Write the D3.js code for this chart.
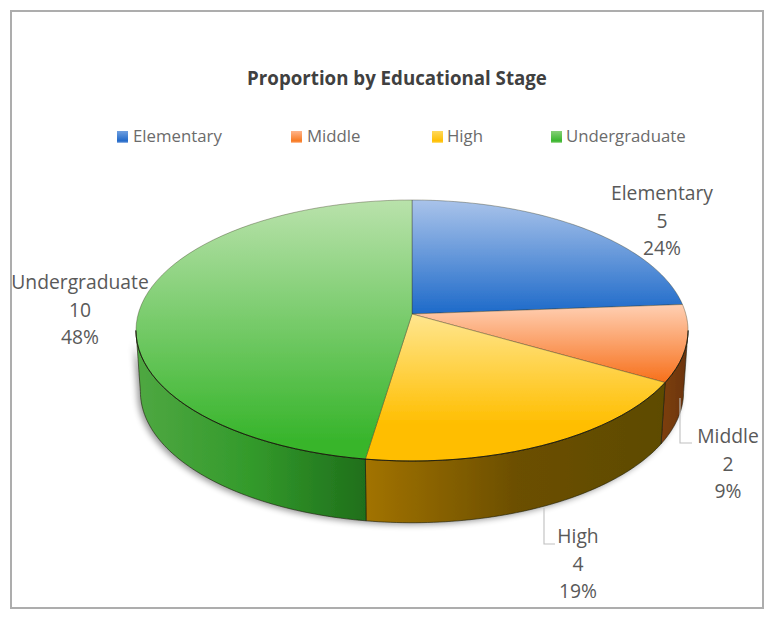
<!DOCTYPE html>
<html><head><meta charset="utf-8">
<script src="https://cdn.jsdelivr.net/npm/d3@7"></script>
<style>html,body{margin:0;padding:0;background:#fff}svg{display:block}text{font-family:"Open Sans","Noto Sans",sans-serif}</style>
</head><body><svg id="c" width="773" height="618"></svg>
<script>
const categories = ["Elementary","Middle","High","Undergraduate"];
const values = [5,2,4,10];
const percents = ["24%","9%","19%","48%"];
const titleText = "Proportion by Educational Stage";
const topColors = [["#a9c3ea","#1c69c9"],["#ffd0b4","#f7711c"],["#ffe68f","#ffbe00"],["#b9e2ab","#38b52c"]];
const sideColors = [[],["#7d3f0c","#743a0a","#6a3208"],["#a27300","#6c4f00","#5d4b00"],["#4fa842","#339a2b","#1f6f1b"]];
const swatchColors = [["#6f9fe0","#2068c8"],["#ffb48a","#f7781f"],["#ffd95c","#ffbe00"],["#86d077","#38b52c"]];
const gradTop = [200,304,314,200];
const gradBottom = [315,382,425,440];
const swatchX = [117,291,432,551];
const legendTextX = [133,307,447,566];
const labelPos = [[662,200],[728,443],[578,543],[80,289]];
const leaders = [null,[[680,398],[680,443],[692,443]],[[544,508],[544,544],[555,544]],null];

const svg = d3.select("#c");
const defs = svg.append("defs");
const cx=412, cy=314, bx=273.8, ay=128.4, p=0.1264, botCy=375, botSX=0.984, botSY=1.005;
// projection of the unit pie disc on to the tilted top and bottom planes
function topPt(a){const u=Math.sin(a),v=-Math.cos(a),d=1-p*v;return [cx+bx*u/d,cy+ay*v/d];}
function botPt(a){const t=topPt(a);return [cx+(t[0]-cx)*botSX,botCy+(t[1]-cy)*botSY];}
const arcs = d3.pie().sort(null).value(d=>d)(values);
const line = d3.line();
const stepsOf=(a,b)=>d3.range(0,61).map(i=>a+(b-a)*i/60);

categories.forEach((c,i)=>{
  const g=defs.append("linearGradient").attr("id","t"+i).attr("gradientUnits","userSpaceOnUse")
    .attr("x1",0).attr("x2",0).attr("y1",gradTop[i]).attr("y2",gradBottom[i]);
  g.append("stop").attr("offset",0).attr("stop-color",topColors[i][0]);
  g.append("stop").attr("offset",1).attr("stop-color",topColors[i][1]);
  if(i>0){
    const s=defs.append("linearGradient").attr("id","s"+i);
    sideColors[i].forEach((col,k)=>s.append("stop").attr("offset",k/2).attr("stop-color",col));
  }
  const lg=defs.append("linearGradient").attr("id","l"+i).attr("x1",0).attr("x2",0).attr("y1",0).attr("y2",1);
  lg.append("stop").attr("offset",0).attr("stop-color",swatchColors[i][0]);
  lg.append("stop").attr("offset",.85).attr("stop-color",swatchColors[i][1]);
  lg.append("stop").attr("offset",1).attr("stop-color",topColors[i][0]);
});
const f=defs.append("filter").attr("id","sh").attr("x","-10%").attr("y","-10%").attr("width","120%").attr("height","125%");
f.append("feGaussianBlur").attr("stdDeviation",3);
const soft=defs.append("filter").attr("id","soft").attr("x","-5%").attr("y","-5%").attr("width","110%").attr("height","110%");
soft.append("feGaussianBlur").attr("stdDeviation",0.35);

svg.append("rect").attr("x",11).attr("y",11).attr("width",752).attr("height",597)
  .attr("fill","#fff").attr("stroke","#adadad").attr("stroke-width",2);

// side walls: only the near (visible) part of each slice, between the two silhouette tangents
const rimMin=Math.PI*0.5+Math.asin(p), rimMax=Math.PI*1.5-Math.asin(p);
const front=stepsOf(rimMin,rimMax);
const wallPts=front.map(topPt).concat(front.slice().reverse().map(botPt));
svg.append("path").attr("d",line(wallPts)+"Z").attr("fill","#000").attr("opacity",.4)
  .attr("filter","url(#sh)").attr("transform","translate(-3,2)");

const pie=svg.append("g").attr("filter","url(#soft)");
arcs.forEach((d,i)=>{
  const a0=Math.max(d.startAngle,rimMin),a1=Math.min(d.endAngle,rimMax);
  if(a1<=a0)return;
  const ang=stepsOf(a0,a1);
  const pts=ang.map(topPt).concat(ang.slice().reverse().map(botPt));
  pie.append("path").attr("d",line(pts)+"Z").attr("fill",`url(#s${i})`)
    .attr("stroke","#1d1d0c").attr("stroke-opacity",.75).attr("stroke-width",.8).attr("stroke-linejoin","round");
});
// top faces
arcs.forEach((d,i)=>{
  const pts=[[cx,cy]].concat(stepsOf(d.startAngle,d.endAngle).map(topPt));
  pie.append("path").attr("d",line(pts)+"Z").attr("fill",`url(#t${i})`)
    .attr("stroke","#3a3a20").attr("stroke-opacity",.55).attr("stroke-width",.7).attr("stroke-linejoin","round");
});
// darker rim where the top face meets the wall
pie.append("path").attr("d",line(front.map(topPt))).attr("fill","none")
  .attr("stroke","#141408").attr("stroke-opacity",.85).attr("stroke-width",1);

// leader lines
leaders.forEach(l=>{ if(l) svg.append("path").attr("d",line(l)).attr("fill","none").attr("stroke","#bfbfbf").attr("stroke-width",1.1); });

// data labels
categories.forEach((c,i)=>{
  const [x,y]=labelPos[i];
  [c,values[i],percents[i]].forEach((t,j)=>{
    svg.append("text").attr("x",x).attr("y",y+j*27.5).attr("text-anchor","middle")
      .attr("font-size",19.3).attr("fill","#595959").text(t);
  });
});

// title
svg.append("text").attr("x",397).attr("y",85).attr("text-anchor","middle")
  .attr("font-size",18.7).attr("font-weight",700).attr("fill","#404040").text(titleText);

// legend
categories.forEach((c,i)=>{
  svg.append("rect").attr("x",swatchX[i]).attr("y",131).attr("width",11).attr("height",12)
    .attr("fill",`url(#l${i})`);
  svg.append("text").attr("x",legendTextX[i]).attr("y",142).attr("font-size",16.8)
    .attr("fill","#6b6b6b").text(c);
});
</script></body></html>
